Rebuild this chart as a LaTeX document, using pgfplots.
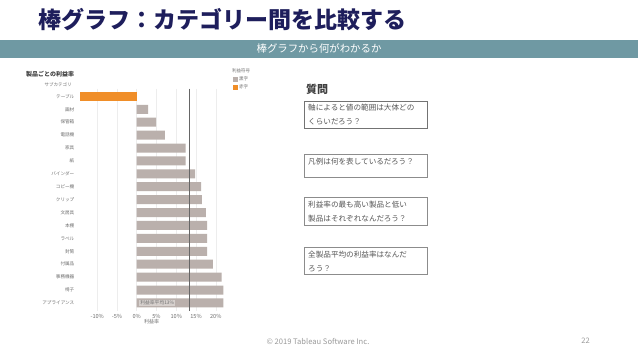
\documentclass[border=0pt]{standalone}
\usepackage{pgfplots}
\pgfplotsset{compat=1.18}
\usepackage{fontspec}
\setmainfont{Noto Sans CJK JP}
\definecolor{titlenavy}{RGB}{30,30,92}
\definecolor{banner}{RGB}{111,153,163}
\definecolor{bargray}{RGB}{186,176,172}
\definecolor{barorange}{RGB}{240,142,40}
\definecolor{lbl}{RGB}{110,110,110}
\definecolor{boxtxt}{RGB}{85,85,85}
\newcommand{\fs}[1]{\fontsize{#1bp}{#1bp}\selectfont}
\begin{document}
\begin{tikzpicture}
\fill[white] (0,0) rectangle (638bp,-359bp);
\begin{scope}[x=1bp,y=-1bp]
  % header
  \node[anchor=west, text=titlenavy, inner sep=0pt] at (38,20) {\fs{23}\bfseries 棒グラフ：カテゴリー間を比較する};
  \fill[banner] (0,40) rectangle (638,58);
  \node[text=white, inner sep=0pt] at (319,49) {\fs{10.4}棒グラフから何がわかるか};
  % chart title
  \node[anchor=west, text=black!75, inner sep=0pt] at (26,74) {\fs{6}\bfseries 製品ごとの利益率};
  \node[anchor=east, text=lbl, inner sep=0pt] at (71.7,85) {\fs{4.5}サブカテゴリ};
  % legend
  \node[anchor=west, text=lbl, inner sep=0pt] at (232,70.5) {\fs{4.5}利益符号};
  \fill[bargray] (233,77) rectangle (237.5,81.5);
  \node[anchor=west, text=lbl, inner sep=0pt] at (239,79.2) {\fs{4.5}黒字};
  \fill[barorange] (233,85) rectangle (237.5,89.5);
  \node[anchor=west, text=lbl, inner sep=0pt] at (239,87.2) {\fs{4.5}赤字};
  % questions
  \node[anchor=west, text=black!75, inner sep=0pt] at (306,89) {\fs{11}\bfseries 質問};
  \draw[black!55, line width=0.7bp] (304,101) rectangle (427,128);
  \node[anchor=north west, text=boxtxt, inner sep=0pt, align=left] at (308,104) {\fs{7.6}軸によると値の範囲は大体どの\\[2bp]\fs{7.6}くらいだろう？};
  \draw[black!45, line width=0.7bp] (304,154) rectangle (427,177);
  \node[anchor=north west, text=boxtxt, inner sep=0pt, align=left] at (308,158) {\fs{7.6}凡例は何を表しているだろう？};
  \draw[black!45, line width=0.7bp] (304,197) rectangle (427,225);
  \node[anchor=north west, text=boxtxt, inner sep=0pt, align=left] at (308,201) {\fs{7.6}利益率の最も高い製品と低い\\[2bp]\fs{7.6}製品はそれぞれなんだろう？};
  \draw[black!45, line width=0.7bp] (304,247) rectangle (427,274);
  \node[anchor=north west, text=boxtxt, inner sep=0pt, align=left] at (308,250.5) {\fs{7.6}全製品平均の利益率はなんだ\\[2bp]\fs{7.6}ろう？};
  % footer
  \node[text=black!40, inner sep=0pt] at (318,341) {\fs{7.6}© 2019 Tableau Software Inc.};
  \node[text=black!40, inner sep=0pt] at (585.5,341) {\fs{7.6}22};
\end{scope}
\begin{axis}[
  at={(75.5bp,-310.7bp)}, anchor=south west,
  width=152.1bp, height=222.1bp, scale only axis,
  xmin=-15.5, xmax=23, ymin=-0.6, ymax=16.6, y dir=reverse,
  axis line style={draw=none}, major tick style={draw=none},
  xmajorgrids, grid style={black!7, line width=0.5bp},
  xtick={-10,-5,0,5,10,15,20},
  xticklabels={-10\%,-5\%,0\%,5\%,10\%,15\%,20\%},
  ytick={0,1,...,16},
  yticklabels={テーブル,画材,保管箱,電話機,家具,紙,バインダー,コピー機,クリップ,文房具,本棚,ラベル,封筒,付属品,事務機器,椅子,アプライアンス},
  yticklabel style={font=\fs{4.6}, text=lbl, inner xsep=1bp},
  xticklabel style={font=\fs{5.6}, text=lbl},
  xlabel={利益率}, xlabel style={font=\fs{5}, text=lbl, yshift=6bp},
  clip=false,
]
\addplot[xbar, bar width=9bp, bar shift=0pt, fill=barorange, draw=none] coordinates {(-14.4,0)};
\addplot[xbar, bar width=9bp, bar shift=0pt, fill=bargray, draw=none] coordinates {
(2.9,1) (4.9,2) (7.1,3) (12.4,4) (12.4,5) (14.8,6) (16.3,7) (16.5,8)
(17.5,9) (17.8,10) (17.8,11) (17.8,12) (19.3,13) (21.5,14) (21.9,15) (21.9,16)};
\addplot[black!60, line width=0.6bp] coordinates {(13.4,-0.6) (13.4,16.6)};
\node[anchor=west, fill=bargray!60, text=black!55, inner sep=1bp] at (axis cs:0.6,16) {\fs{4.8}利益率平均13\%};
\end{axis}
\end{tikzpicture}
\end{document}
